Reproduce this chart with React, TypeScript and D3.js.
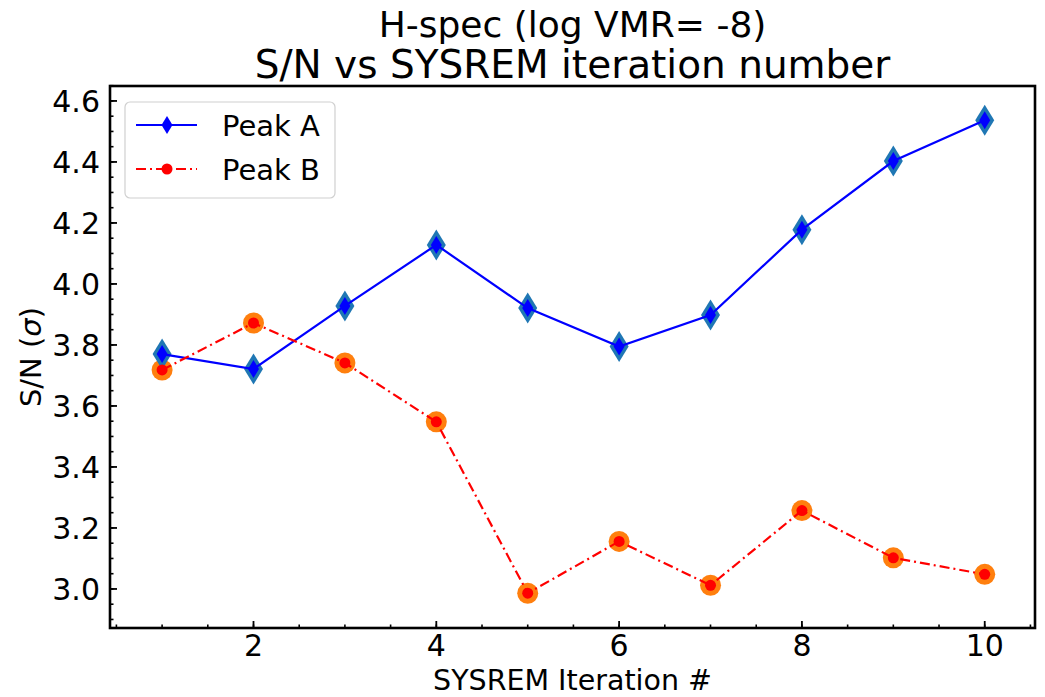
import React from "react";
import * as d3 from "d3";

const iterations = [1, 2, 3, 4, 5, 6, 7, 8, 9, 10];
const peakA = [3.77, 3.721, 3.928, 4.128, 3.921, 3.795, 3.898, 4.178, 4.403, 4.537];
const peakB = [3.718, 3.872, 3.741, 3.548, 2.986, 3.156, 3.012, 3.257, 3.102, 3.048];
const xTicks = [2, 4, 6, 8, 10];
const yTicks = [3.0, 3.2, 3.4, 3.6, 3.8, 4.0, 4.2, 4.4, 4.6];
const titleLines = ["H-spec (log VMR= -8)", "S/N vs SYSREM iteration number"];
const legendLabels = ["Peak A", "Peak B"];

const W = 1045;
const H = 697;
const left = 110, right = 1035, top = 86, bottom = 628;
const FONT = "DejaVu Sans, sans-serif";

function diamond(h: number, w: number) {
  return `M0,${-h / 2}L${w / 2},0L0,${h / 2}L${-w / 2},0Z`;
}

export default function App() {
  const x = d3.scaleLinear().domain([0.43, 10.55]).range([left, right]);
  const y = d3.scaleLinear().domain([2.872, 4.649]).range([bottom, top]);
  const xMinor = d3.range(0.5, 10.51, 0.5);
  const yMinor = d3.range(2.9, 4.651, 0.05);

  const line = d3
    .line<number>()
    .x((_, i) => x(iterations[i]))
    .y((d) => y(d));

  const tickFs = 30;
  const labelFs = 29;

  return (
    <svg
      width={W}
      height={H}
      style={{ position: "absolute", left: 0, top: 0, background: "#fff" }}
      fontFamily={FONT}
    >
      <rect x={0} y={0} width={W} height={H} fill="#fff" />
      {/* titles */}
      <text x={(left + right) / 2} y={37} textAnchor="middle" fontSize={36} fill="#000">
        {titleLines[0]}
      </text>
      <text x={(left + right) / 2} y={78} textAnchor="middle" fontSize={39} fill="#000">
        {titleLines[1]}
      </text>

      {/* outer markers */}
      {peakB.map((v, i) => (
        <circle key={"ob" + i} cx={x(iterations[i])} cy={y(v)} r={10.5} fill="#ff7f0e" />
      ))}
      {peakA.map((v, i) => (
        <path
          key={"oa" + i}
          d={diamond(31, 19)}
          transform={`translate(${x(iterations[i])},${y(v)})`}
          fill="#1f77b4"
        />
      ))}

      {/* lines */}
      <path d={line(peakA) || ""} fill="none" stroke="#0000ff" strokeWidth={2.2} />
      {peakA.map((v, i) => (
        <path
          key={"ia" + i}
          d={diamond(18, 11)}
          transform={`translate(${x(iterations[i])},${y(v)})`}
          fill="#0000ff"
        />
      ))}
      <path
        d={line(peakB) || ""}
        fill="none"
        stroke="#ff0000"
        strokeWidth={2.2}
        strokeDasharray="10,4,2,4"
      />
      {peakB.map((v, i) => (
        <circle key={"ib" + i} cx={x(iterations[i])} cy={y(v)} r={5.5} fill="#ff0000" />
      ))}

      {/* ticks */}
      {xMinor.map((t) => (
        <line key={"xm" + t} x1={x(t)} x2={x(t)} y1={bottom} y2={bottom - 3.5} stroke="#000" strokeWidth={1.6} />
      ))}
      {xTicks.map((t) => (
        <g key={"xt" + t}>
          <line x1={x(t)} x2={x(t)} y1={bottom} y2={bottom - 7} stroke="#000" strokeWidth={1.8} />
          <text x={x(t)} y={656} textAnchor="middle" fontSize={tickFs} fill="#000">
            {t}
          </text>
        </g>
      ))}
      {yMinor.map((t) => (
        <line key={"ym" + t} x1={left} x2={left + 3.5} y1={y(t)} y2={y(t)} stroke="#000" strokeWidth={1.6} />
      ))}
      {yTicks.map((t) => (
        <g key={"yt" + t}>
          <line x1={left} x2={left + 7} y1={y(t)} y2={y(t)} stroke="#000" strokeWidth={1.8} />
          <text x={100} y={y(t) + 11} textAnchor="end" fontSize={tickFs} fill="#000">
            {t.toFixed(1)}
          </text>
        </g>
      ))}

      {/* frame */}
      <rect x={left} y={top} width={right - left} height={bottom - top} fill="none" stroke="#000" strokeWidth={2.6} />

      {/* axis labels */}
      <text x={(left + right) / 2} y={690} textAnchor="middle" fontSize={28.5} fill="#000">
        SYSREM Iteration #
      </text>
      <text
        transform={`translate(41,${(top + bottom) / 2}) rotate(-90)`}
        textAnchor="middle"
        fontSize={labelFs}
        fill="#000"
      >
        S/N (<tspan fontStyle="italic">σ</tspan>)
      </text>

      {/* legend */}
      <g>
        <rect x={125} y={102} width={210} height={96} rx={5} ry={5} fill="#fff" fillOpacity={0.8} stroke="#d0d0d0" strokeWidth={1.2} />
        <line x1={136} x2={197} y1={125} y2={125} stroke="#0000ff" strokeWidth={2.2} />
        <path d={diamond(18, 11)} transform="translate(167,125)" fill="#0000ff" />
        <text x={222} y={136} fontSize={labelFs} fill="#000">
          {legendLabels[0]}
        </text>
        <line x1={136} x2={197} y1={169} y2={169} stroke="#ff0000" strokeWidth={2.2} strokeDasharray="10,4,2,4" />
        <circle cx={167} cy={169} r={5.5} fill="#ff0000" />
        <text x={222} y={180} fontSize={labelFs} fill="#000">
          {legendLabels[1]}
        </text>
      </g>
    </svg>
  );
}
